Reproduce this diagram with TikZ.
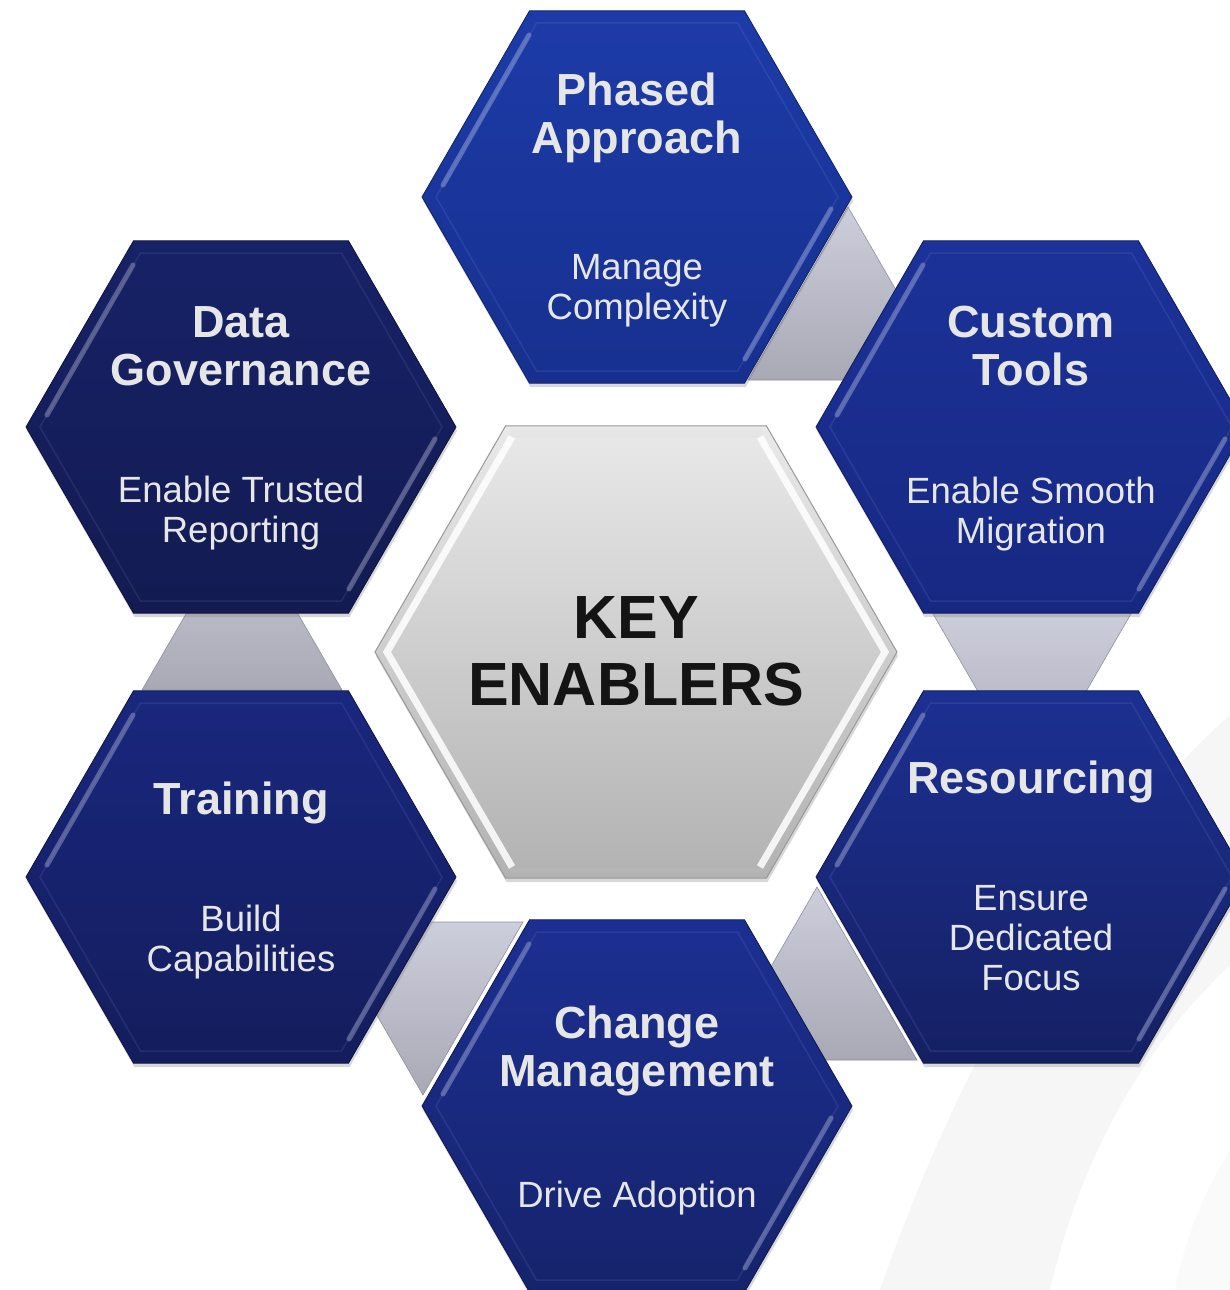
\documentclass[tikz,border=0pt]{standalone}
\usepackage{fontspec}
\setmainfont{Liberation Sans}
\usetikzlibrary{
  shapes.geometric,%
  shadows,%
  calc,%
  backgrounds,%
  positioning
}
% hexagon colours (top / bottom of the shading)
\definecolor{paTop}{HTML}{1D3BA8}
\definecolor{paBot}{HTML}{17308F}
\definecolor{dgTop}{HTML}{172267}
\definecolor{dgBot}{HTML}{131B52}
\definecolor{ctTop}{HTML}{1C3299}
\definecolor{ctBot}{HTML}{172882}
\definecolor{trTop}{HTML}{19277E}
\definecolor{trBot}{HTML}{141D5C}
\definecolor{rsTop}{HTML}{1C3092}
\definecolor{rsBot}{HTML}{152063}
\definecolor{cmTop}{HTML}{1C2F92}
\definecolor{cmBot}{HTML}{16236C}
\definecolor{labelgray}{HTML}{E6E6E6}
\definecolor{keyTop}{HTML}{E9E9E9}
\definecolor{keyBot}{HTML}{B2B2B2}
\definecolor{linkTop}{HTML}{CDCEDB}
\definecolor{linkBot}{HTML}{A8A9B5}
\definecolor{swoosh}{HTML}{F6F6F6}

\tikzset{
  hexa/.style 2 args={regular polygon, regular polygon sides=6,
    minimum size=430pt, inner sep=0pt, outer sep=0pt,
    draw=#2!70!black, line width=0.8pt,
    top color=#1, bottom color=#2,
    drop shadow={shadow xshift=1pt, shadow yshift=-4pt, opacity=.3},
    path picture={
      \coordinate (hc) at (path picture bounding box.center);
      % bevel frame
      \draw[#1!60!white, opacity=.18, line width=1.5pt]
        ($(hc)+(-201,0)$) -- ($(hc)+(-100.5,-174)$) -- ($(hc)+(100.5,-174)$)
        -- ($(hc)+(201,0)$) -- ($(hc)+(100.5,174)$) -- ($(hc)+(-100.5,174)$) -- cycle;
      % lit edges
      \draw[#1!45!white, opacity=.5, line width=5pt, line cap=round]
        ($(hc)+(-194,-12)$) -- ($(hc)+(-108,-162)$);
      \draw[#1!45!white, opacity=.5, line width=5pt, line cap=round]
        ($(hc)+(194,12)$) -- ($(hc)+(108,162)$);
      \draw[#1!50!white, opacity=.3, line width=3pt, line cap=round]
        ($(hc)+(114,-180)$) -- ($(hc)+(202,-28)$);
    }},
  keyhex/.style={regular polygon, regular polygon sides=6,
    minimum size=522pt, inner sep=0pt, outer sep=0pt,
    draw=gray!80, line width=1pt,
    top color=keyTop, bottom color=keyBot,
    drop shadow={shadow xshift=1pt, shadow yshift=-4pt, opacity=.3},
    path picture={
      \coordinate (kc) at (path picture bounding box.center);
      \draw[white!80!gray, line width=8pt]
        ($(kc)+(-126,-218)$) -- ($(kc)+(126,-218)$);
      \draw[white, opacity=.85, line width=7pt]
        ($(kc)+(-124,-215)$) -- ($(kc)+(-249,0)$) -- ($(kc)+(-124,215)$);
      \draw[white, opacity=.85, line width=7pt]
        ($(kc)+(124,-215)$) -- ($(kc)+(249,0)$) -- ($(kc)+(124,215)$);
      \draw[gray!55, opacity=.6, line width=4pt]
        ($(kc)+(-126,218)$) -- ($(kc)+(126,218)$);
    }},
  title/.style={text=labelgray, inner sep=0pt, align=center,
    font=\bfseries\fontsize{45}{48.5}\selectfont},
  sub/.style={text=labelgray, inner sep=0pt, align=center,
    font=\fontsize{36.5}{40}\selectfont},
  keytext/.style={text=black!92, inner sep=0pt, align=center,
    font=\bfseries\fontsize{61}{67}\selectfont},
  link/.style={top color=linkTop, bottom color=linkBot,
    draw=linkBot!85!black, line width=0.6pt}
}

\begin{document}
\begin{tikzpicture}[x=1pt, y=-1pt]
  \useasboundingbox (0,0) rectangle (1230,1290);
  \clip (0,0) rectangle (1230,1290);

  % hexagons
  \node[keyhex] (key) at (636,652) {};
  \node[hexa={paTop}{paBot}] (pa) at (637,197) {};
  \node[hexa={dgTop}{dgBot}] (dg) at (241,427) {};
  \node[hexa={ctTop}{ctBot}] (ct) at (1031,427) {};
  \node[hexa={trTop}{trBot}] (tr) at (241,877) {};
  \node[hexa={rsTop}{rsBot}] (rs) at (1031,877) {};
  \node[hexa={cmTop}{cmBot}] (cm) at (637,1106) {};

  % background and grey links between neighbours
  \begin{scope}[on background layer]
    \fill[white] (0,0) rectangle (1230,1290);
    \fill[swoosh] (880,1290) .. controls (960,1060) and (1080,850) .. (1230,715)
      -- (1230,965) .. controls (1140,1050) and (1080,1160) .. (1050,1290) -- cycle;
    \fill[swoosh!60!white] (1230,1150) .. controls (1200,1200) and (1185,1240) .. (1175,1290)
      -- (1230,1290) -- cycle;
    \foreach \hex/\dx/\dy/\h in {pa/211/10/173, rs/1/-92/-173, rs/-214/10/173,
                                  cm/-214/-11/-173, dg/1/90/173}
      \path[link] ($(\hex.center)+(\dx,\dy)$) -- ++(-100,\h) -- ++(200,0) -- cycle;
  \end{scope}

  % labels (base = last line)
  \node[keytext, anchor=base] (key-t) at ($(key.center)+(0,53)$) {KEY\\ENABLERS};

  \node[title, anchor=base] (pa-t) at ($(pa.center)+(0,-43.5)$) {Phased\\Approach};
  \node[sub, anchor=base] (pa-s) at ($(pa.center)+(0,122)$) {Manage\\Complexity};

  \node[title, anchor=base] (dg-t) at ($(dg.center)+(0,-41.5)$) {Data\\Governance};
  \node[sub, anchor=base] (dg-s) at ($(dg.center)+(0,115)$) {Enable Trusted\\Reporting};

  \node[title, anchor=base] (ct-t) at ($(ct.center)+(0,-41.5)$) {Custom\\Tools};
  \node[sub, anchor=base] (ct-s) at ($(ct.center)+(0,116)$) {Enable Smooth\\Migration};

  \node[title, anchor=base] (tr-t) at ($(tr.center)+(0,-63)$) {Training};
  \node[sub, anchor=base] (tr-s) at ($(tr.center)+(0,94)$) {Build\\Capabilities};

  \node[title, anchor=base] (rs-t) at ($(rs.center)+(0,-84)$) {Resourcing};
  \node[sub, anchor=base] (rs-s) at ($(rs.center)+(0,113)$) {Ensure\\Dedicated\\Focus};

  \node[title, anchor=base] (cm-t) at ($(cm.center)+(0,-19.5)$) {Change\\Management};
  \node[sub, anchor=base] (cm-s) at ($(cm.center)+(0,101)$) {Drive Adoption};
\end{tikzpicture}
\end{document}
